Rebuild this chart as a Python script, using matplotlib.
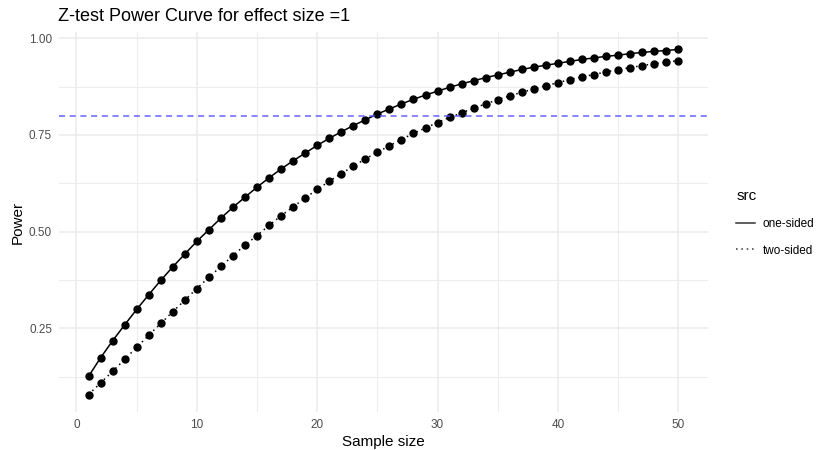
import matplotlib
matplotlib.use('Agg')
import matplotlib.pyplot as plt
from matplotlib.lines import Line2D

plt.rcParams['font.family'] = ['Liberation Sans', 'DejaVu Sans']

# values
sample_size = list(range(1, 51))
one_sided = [0.126, 0.174, 0.218, 0.259, 0.299, 0.337, 0.374, 0.409, 0.442, 0.475,
             0.505, 0.535, 0.563, 0.589, 0.615, 0.639, 0.662, 0.683, 0.703, 0.723,
             0.741, 0.758, 0.774, 0.789, 0.804, 0.817, 0.830, 0.842, 0.853, 0.863,
             0.873, 0.882, 0.890, 0.898, 0.905, 0.912, 0.919, 0.925, 0.930, 0.935,
             0.940, 0.945, 0.949, 0.953, 0.956, 0.960, 0.963, 0.966, 0.968, 0.971]
two_sided = [0.079, 0.109, 0.139, 0.170, 0.201, 0.232, 0.263, 0.293, 0.323, 0.353,
             0.382, 0.410, 0.438, 0.465, 0.490, 0.516, 0.541, 0.564, 0.587, 0.609,
             0.630, 0.650, 0.669, 0.688, 0.705, 0.722, 0.738, 0.754, 0.768, 0.782,
             0.795, 0.807, 0.819, 0.830, 0.841, 0.851, 0.860, 0.869, 0.877, 0.885,
             0.893, 0.900, 0.906, 0.913, 0.918, 0.924, 0.929, 0.934, 0.938, 0.942]
target_power = 0.8
x_ticks = [0, 10, 20, 30, 40, 50]
y_ticks = [0.25, 0.50, 0.75, 1.00]

fig = plt.figure(figsize=(8.22, 4.5), dpi=100)
ax = fig.add_axes([0.0718, 0.0844, 0.7892, 0.8446])

# ggplot-like minimal theme
for s in ax.spines.values():
    s.set_visible(False)
ax.set_xticks(x_ticks)
ax.set_xticks([5, 15, 25, 35, 45], minor=True)
ax.set_yticks(y_ticks)
ax.set_yticks([0.125, 0.375, 0.625, 0.875], minor=True)
ax.grid(which='major', color='#ebebeb', linewidth=1.1)
ax.grid(which='minor', color='#ededed', linewidth=0.8)
ax.set_axisbelow(True)
ax.tick_params(which='both', length=0, colors='#4d4d4d', labelsize=8.5, pad=5)
ax.set_yticklabels(['%.2f' % v for v in y_ticks])

ax.set_xlim(-1.45, 52.45)
ax.set_ylim(0.034, 1.016)

ax.plot(sample_size, one_sided, color='black', linewidth=1.1, linestyle='-',
        marker='o', markersize=5)
ax.plot(sample_size, two_sided, color='black', linewidth=1.1, linestyle=(0, (1, 2.5)),
        marker='o', markersize=5)
ax.axhline(target_power, color='#5555ff', linewidth=1.1, linestyle=(0, (4, 3)), alpha=0.9)

ax.set_title('Z-test Power Curve for effect size =1', loc='left', fontsize=13,
             x=-0.002, pad=8)
ax.set_xlabel('Sample size', fontsize=11, labelpad=3)
ax.set_ylabel('Power', fontsize=11, labelpad=3)

handles = [Line2D([], [], color='#333333', linewidth=1.1, linestyle='-'),
           Line2D([], [], color='#333333', linewidth=1.1, linestyle=(0, (1, 2.5)))]
leg = fig.legend(handles, ['one-sided', 'two-sided'], title='src',
                 loc='center left', bbox_to_anchor=(0.883, 0.505),
                 frameon=False, fontsize=8.5, title_fontsize=11,
                 handlelength=1.6, handletextpad=0.6, labelspacing=1.25)
leg._legend_box.align = 'left'

fig.savefig('out.png', dpi=100)
